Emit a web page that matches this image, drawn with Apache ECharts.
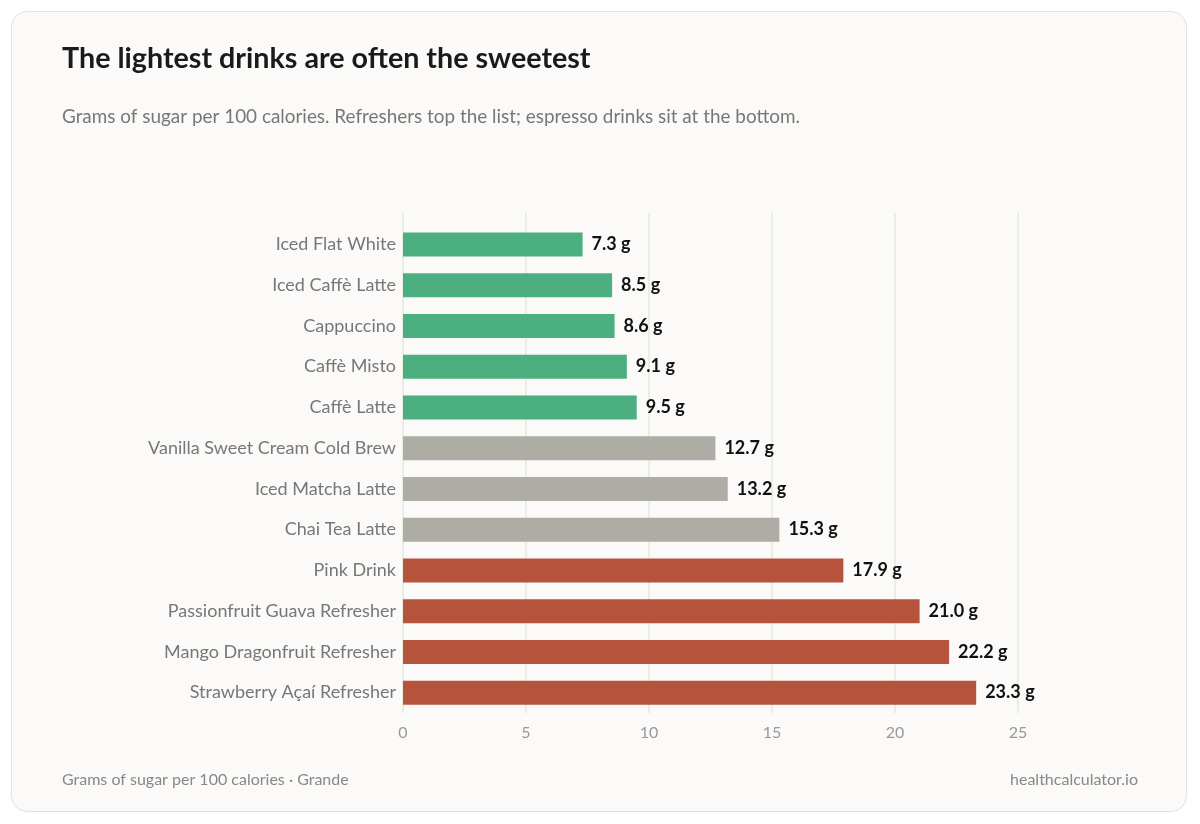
<!DOCTYPE html>
<html><head><meta charset="utf-8">
<script src="https://cdn.jsdelivr.net/npm/echarts@6/dist/echarts.min.js"></script>
<style>
html,body{margin:0;padding:0;background:#fff;}
#card{position:absolute;left:11px;top:11px;width:1176px;height:801px;border:1px solid #e2e2dc;border-radius:16px;background:#fbfaf8;box-sizing:border-box;}
#c{position:absolute;left:0;top:0;width:1200px;height:824px;}
</style></head><body>
<div id="card"></div>
<div id="c"></div>
<script>
const categories = ["Iced Flat White","Iced Caffè Latte","Cappuccino","Caffè Misto","Caffè Latte","Vanilla Sweet Cream Cold Brew","Iced Matcha Latte","Chai Tea Latte","Pink Drink","Passionfruit Guava Refresher","Mango Dragonfruit Refresher","Strawberry Açaí Refresher"];
const values = [7.3,8.5,8.6,9.1,9.5,12.7,13.2,15.3,17.9,21.0,22.2,23.3];
const groups = ["espresso","espresso","espresso","espresso","espresso","other","other","other","refresher","refresher","refresher","refresher"];
const groupColors = {espresso:"#4caf7f", other:"#adada6", refresher:"#b5533c"};

const chart = echarts.init(document.getElementById('c'));
chart.setOption({
  animation:false,
  textStyle:{fontFamily:"Lato"},
  title:[
    {text:"The lightest drinks are often the sweetest",left:57,top:39,textStyle:{fontFamily:"Lato",fontSize:28.7,fontWeight:"bold",color:"#1a1a1a"}},
    {text:"Grams of sugar per 100 calories. Refreshers top the list; espresso drinks sit at the bottom.",left:57,top:102,textStyle:{fontFamily:"Lato",fontSize:18.9,fontWeight:"normal",color:"#777"}},
    {text:"Grams of sugar per 100 calories · Grande",left:57,top:767,textStyle:{fontFamily:"Lato",fontSize:16,fontWeight:"normal",color:"#888"}},
    {text:"healthcalculator.io",right:57,top:767,textStyle:{fontFamily:"Lato",fontSize:16,fontWeight:"normal",color:"#888"}}
  ],
  grid:[{left:403,right:182,top:224,bottom:111},{left:403,right:182,top:213,bottom:111}],
  xAxis:[{type:'value',min:0,max:25,interval:5,gridIndex:0,
    axisLine:{show:false},axisTick:{show:false},
    axisLabel:{color:"#999",fontSize:16,margin:12},
    splitLine:{show:false}},
    {type:'value',min:0,max:25,interval:5,gridIndex:1,
    axisLine:{show:false},axisTick:{show:false},axisLabel:{show:false},
    splitLine:{lineStyle:{color:"#e6e8dc",width:1.5}}}],
  yAxis:[{type:'category',data:categories,inverse:true,gridIndex:0,z:3,
    axisLine:{show:false},axisTick:{show:false},
    axisLabel:{color:"#777",fontSize:18,margin:7}},
    {type:'value',gridIndex:1,show:false}],
  series:[{type:'bar',barWidth:24,xAxisIndex:0,yAxisIndex:0,z:3,
    data:values.map((v,i)=>({value:v,itemStyle:{color:groupColors[groups[i]]}})),
    label:{show:true,position:'right',distance:9,formatter:p=>p.value.toFixed(1)+" g",
      color:"#111",fontSize:18,fontWeight:"bold"}}]
});
</script></body></html>
